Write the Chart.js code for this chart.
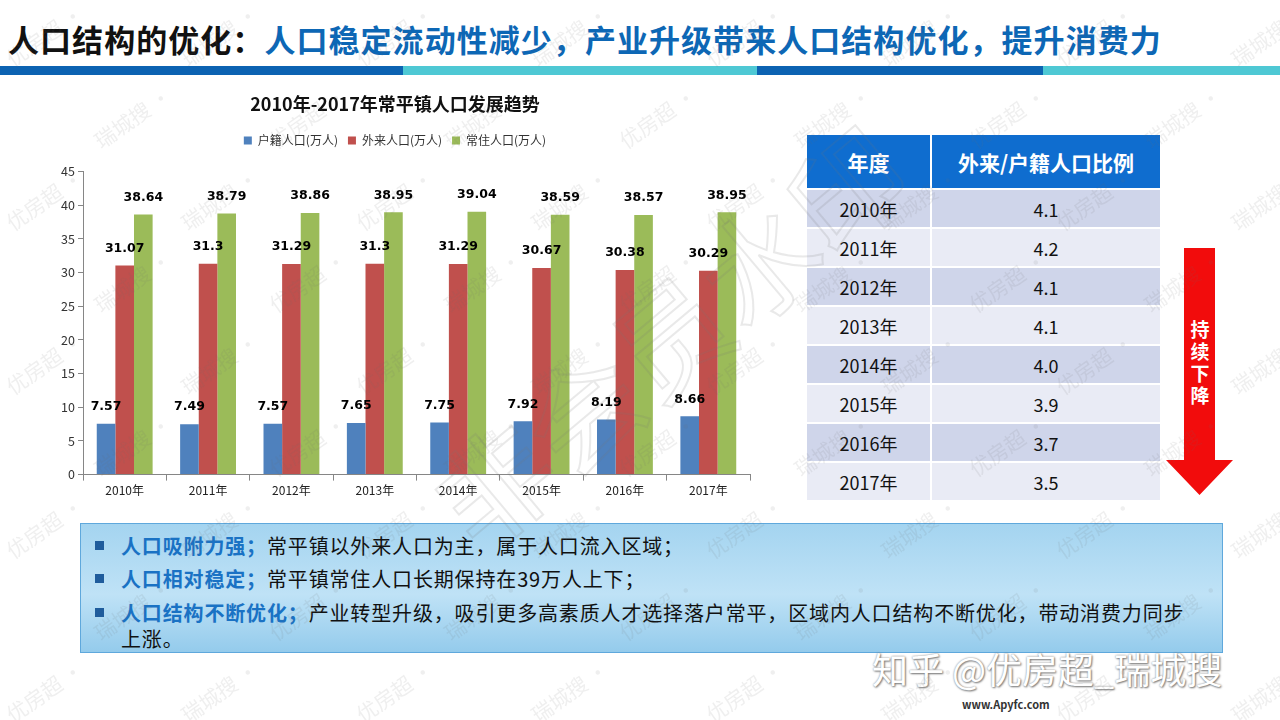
<!DOCTYPE html>
<html>
<head>
<meta charset="utf-8">
<script src="https://cdn.jsdelivr.net/npm/chart.js@4"></script>
<style>
  html, body { margin: 0; padding: 0; background: #fff; }
  body { width: 1280px; height: 720px; position: relative; overflow: hidden;
         font-family: "Noto Sans CJK SC", "Noto Sans", sans-serif; }
  #title { position: absolute; left: 8px; top: 16px; font-size: 31px; font-weight: bold;
           white-space: nowrap; color: #0d67b5; letter-spacing: 1.05px; }
  #title .k { color: #111; }
  .stripe { position: absolute; top: 66px; height: 9px; }
  #chartBox { position: absolute; left: 40px; top: 85px; }
  #ratio { position: absolute; left: 807px; top: 135px; border-collapse: collapse; }
  #ratio th { background: #0f6dcf; color: #fff; font-size: 21px; font-weight: bold;
              height: 53px; padding: 0; border-right: 2px solid #fff; border-bottom: 2px solid #fff; }
  #ratio td { font-size: 18px; color: #111; text-align: center; height: 37px; padding: 0;
              border-right: 2px solid #fff; border-bottom: 2px solid #fff; }
  #ratio tr.odd td { background: #cfd5ea; }
  #ratio tr.even td { background: #e9ebf5; }
  #arrow { position: absolute; left: 1165px; top: 248px; }
  #arrowText { position: absolute; left: 1189px; top: 318px; width: 22px; color: #fff;
               font-size: 19px; font-weight: bold; line-height: 22px; text-align: center; }
  #notes { position: absolute; left: 80px; top: 523px; width: 1143px; height: 130px;
           background: linear-gradient(#a4d4f0, #bfe2f6 55%, #94cbec); border: 1px solid #5fa8dc; box-sizing: border-box; }
  #notes p { margin: 0; position: absolute; left: 40px; font-size: 20px; color: #111; line-height: 26px;
             letter-spacing: 0.85px; white-space: nowrap; }
  #notes p b { color: #1a72c4; }
  #notes .sq { position: absolute; left: 14px; width: 9px; height: 9px; background: #1f5c9c; }
  #wm { position: absolute; left: 0; top: 0; width: 1280px; height: 720px; pointer-events: none; overflow: hidden; }
  #wm span { position: absolute; font-size: 21px; color: rgba(110,110,110,0.11); white-space: nowrap;
             transform: rotate(-35deg); }
  #big { position: absolute; left: 380px; top: 250px; font-size: 115px; color: transparent;
         -webkit-text-stroke: 2px rgba(120,120,120,0.16); transform: rotate(-40deg); white-space: nowrap; }
  #zh { position: absolute; left: 872px; top: 642px; font-size: 36px; color: #fff; white-space: nowrap;
        text-shadow: 0 0 2px #888, 1px 1px 2px #777; }
  #site { position: absolute; left: 962px; top: 696px; font-size: 11px; color: #333; font-weight: bold; }
</style>
</head>
<body>
<div id="title"><span class="k">人口结构的优化：</span>人口稳定流动性减少，产业升级带来人口结构优化，提升消费力</div>
<div class="stripe" style="left:0;width:403px;background:#0c63b2"></div>
<div class="stripe" style="left:403px;width:354px;background:#4ec8d4"></div>
<div class="stripe" style="left:757px;width:286px;background:#0c63b2"></div>
<div class="stripe" style="left:1043px;width:237px;background:#4ec8d4"></div>

<div id="chartBox"><canvas id="myChart" width="720" height="420"></canvas></div>

<table id="ratio"><thead><tr><th style="width:123px">年度</th><th style="width:228px">外来/户籍人口比例</th></tr></thead><tbody id="ratioBody"></tbody></table>

<svg id="arrow" width="70" height="250" viewBox="0 0 70 250">
  <polygon points="19,0 50,0 50,212 68,212 34.5,247 1,212 19,212" fill="#f20c0c"/>
</svg>
<div id="arrowText">持<br>续<br>下<br>降</div>

<div id="notes">
  <div class="sq" style="top:17px"></div>
  <p style="top:9px"><b>人口吸附力强；</b>常平镇以外来人口为主，属于人口流入区域；</p>
  <div class="sq" style="top:50px"></div>
  <p style="top:42px"><b>人口相对稳定；</b>常平镇常住人口长期保持在39万人上下；</p>
  <div class="sq" style="top:84px"></div>
  <p style="top:76px"><b>人口结构不断优化；</b>产业转型升级，吸引更多高素质人才选择落户常平，区域内人口结构不断优化，带动消费力同步<br>上涨。</p>
</div>

<div id="zh">知乎 @优房超_瑞城搜</div>
<div id="site">www.Apyfc.com</div>
<div id="wm"><div id="big">非会员水印</div></div>

<script>
// chart data
const years = ['2010年', '2011年', '2012年', '2013年', '2014年', '2015年', '2016年', '2017年'];
const huji = [7.57, 7.49, 7.57, 7.65, 7.75, 7.92, 8.19, 8.66];
const wailai = [31.07, 31.3, 31.29, 31.3, 31.29, 30.67, 30.38, 30.29];
const changzhu = [38.64, 38.79, 38.86, 38.95, 39.04, 38.59, 38.57, 38.95];
const yTicks = [0, 5, 10, 15, 20, 25, 30, 35, 40, 45];

// table data
const ratio = ['4.1', '4.2', '4.1', '4.1', '4.0', '3.9', '3.7', '3.5'];

function buildTable(){
	let body = document.getElementById('ratioBody');
	years.forEach((y, i) => {
		let tr = document.createElement('tr');
		tr.className = i % 2 == 0 ? 'odd' : 'even';
		tr.innerHTML = '<td>' + y + '</td><td>' + ratio[i] + '</td>';
		body.appendChild(tr);
	});
}

function buildWatermark(){
	let wm = document.getElementById('wm');
	for(let r = -2; r < 9; r++)
	{
		for(let c = -1; c < 8; c++)
		{
			let s = document.createElement('span');
			s.textContent = (r + c) % 2 == 0 ? '优房超 ·' : '瑞城搜 ·';
			s.style.left = (c * 175 + (r % 2) * 88) + 'px';
			s.style.top = (r * 82 + 20) + 'px';
			wm.appendChild(s);
		}
	}
}

// draws the value above each bar
const valueLabels = {
	id: 'valueLabels',
	afterDatasetsDraw(chart){
		let ctx = chart.ctx;
		ctx.save();
		ctx.font = 'bold 12.5px "DejaVu Sans"';
		ctx.fillStyle = '#000';
		ctx.textAlign = 'center';
		ctx.textBaseline = 'middle';
		chart.data.datasets.forEach((ds, i) => {
			chart.getDatasetMeta(i).data.forEach((bar, j) => {
				ctx.fillText(String(ds.data[j]), bar.x, bar.y - 17);
			});
		});
		ctx.restore();
	}
};

// extra room under the legend
const legendGap = {
	id: 'legendGap',
	beforeInit(chart){
		let fit = chart.legend.fit;
		chart.legend.fit = function(){
			fit.bind(chart.legend)();
			this.height += 15;
		};
	}
};

function renderChart(){
	Chart.defaults.font.family = '"Noto Sans CJK SC", sans-serif';
	Chart.defaults.color = '#333';
	let ctx = document.getElementById('myChart').getContext('2d');
	new Chart(ctx, {
		type: 'bar',
		data: {
			labels: years,
			datasets: [
				{ label: '户籍人口(万人)', data: huji, backgroundColor: '#4f81bd' },
				{ label: '外来人口(万人)', data: wailai, backgroundColor: '#c0504d' },
				{ label: '常住人口(万人)', data: changzhu, backgroundColor: '#9bbb59' }
			]
		},
		options: {
			responsive: false,
			animation: false,
			layout: { padding: { top: 4, right: 10, bottom: 4, left: 0 } },
			datasets: { bar: { categoryPercentage: 0.67, barPercentage: 1 } },
			plugins: {
				title: {
					display: true,
					text: '2010年-2017年常平镇人口发展趋势',
					color: '#111',
					font: { size: 18, weight: 'bold' },
					padding: { top: 4, bottom: 10 }
				},
				legend: {
					labels: { boxWidth: 8, boxHeight: 8, font: { size: 12 }, color: '#333', padding: 10 }
				},
				tooltip: { enabled: false }
			},
			scales: {
				x: {
					grid: { display: true, drawOnChartArea: false, offset: true, tickLength: 6, color: '#868686' },
					border: { color: '#868686' },
					ticks: { font: { size: 12 }, color: '#222' }
				},
				y: {
					min: 0,
					max: 45,
					afterBuildTicks: s => { s.ticks = yTicks.map(v => ({ value: v })); },
					afterFit: s => { s.width = 43; },
					grid: { display: true, drawOnChartArea: false, tickLength: 5, color: '#868686' },
					border: { color: '#868686' },
					ticks: { font: { size: 12.5 }, color: '#333', padding: 3 }
				}
			}
		},
		plugins: [valueLabels, legendGap]
	});
}

buildTable();
buildWatermark();
renderChart();
</script>
</body>
</html>
